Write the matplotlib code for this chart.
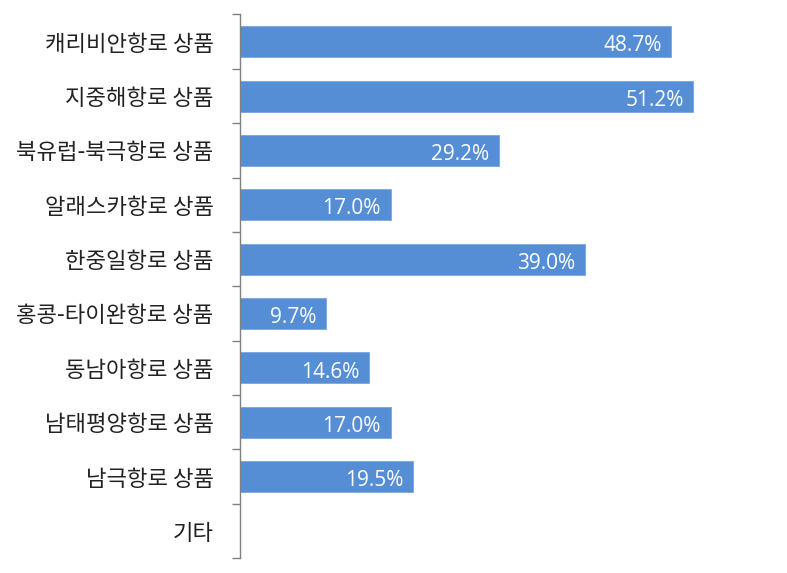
import matplotlib
matplotlib.use("Agg")
import matplotlib.pyplot as plt
import numpy as np

categories = ["캐리비안항로 상품", "지중해항로 상품", "북유럽-북극항로 상품", "알래스카항로 상품",
              "한중일항로 상품", "홍콩-타이완항로 상품", "동남아항로 상품", "남태평양항로 상품",
              "남극항로 상품", "기타"]
values = [48.7, 51.2, 29.2, 17.0, 39.0, 9.7, 14.6, 17.0, 19.5, None]

plt.rcParams['font.family'] = ['Noto Sans CJK KR', 'DejaVu Sans']

fig = plt.figure(figsize=(7.87, 5.73), dpi=100)
ax = fig.add_axes([0.305, 0.026, 0.675, 0.9487])

n = len(categories)
y = np.arange(n)
bar_color = '#558ed5'
for i, v in enumerate(values):
    if v is None:
        continue
    ax.barh(y[i], v, height=0.57, color=bar_color, edgecolor='#7aa6dd', linewidth=0.6)
    ax.annotate(f"{v:.1f}%", xy=(v, y[i]), xytext=(-7, -3), textcoords='offset points',
                ha='right', va='center', color='white', fontsize=15,
                family=['Open Sans', 'DejaVu Sans'])

ax.set_xlim(0, 60)
ax.set_ylim(n - 0.5, -0.5)
ax.set_yticks(y)
ax.set_yticklabels(categories, fontsize=16, color='#222222')
ax.tick_params(axis='y', which='major', length=0, pad=19)
ax.set_yticks(np.arange(-0.5, n, 1.0), minor=True)
ax.tick_params(axis='y', which='minor', length=6, color='#808080', width=1)
ax.set_xticks([])
for s in ['top', 'right', 'bottom']:
    ax.spines[s].set_visible(False)
ax.spines['left'].set_color('#808080')
ax.spines['left'].set_linewidth(1)

fig.savefig("out.png", dpi=100)
